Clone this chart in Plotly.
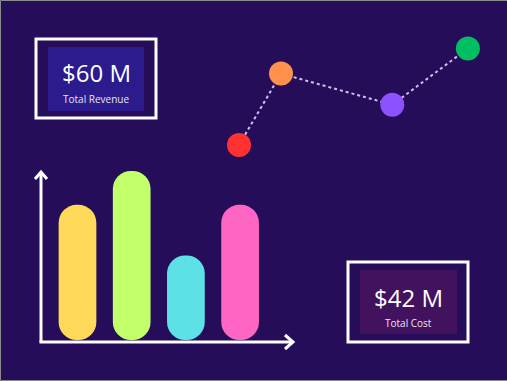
import plotly.graph_objects as go

W, H = 507, 381
BG = "#260d5a"

# ---- data ----
bar_categories = ["A", "B", "C", "D"]
bar_values = [80, 100, 50, 80]
bar_colors = ["#FFD95A", "#C1FF6B", "#5CE1E6", "#FF66C4"]

line_x = [0, 1, 3.65, 5.45]
line_y = [12.5, 72, 46, 93]
point_colors = ["#FF3131", "#FF914D", "#8C52FF", "#00BF63"]

kpi_values = ["$60 M", "$42 M"]
kpi_labels = ["Total Revenue", "Total Cost"]


def px(x):
    return x / W


def py(y):
    return 1 - y / H


fig = go.Figure()

idx = list(range(len(bar_categories)))
BAR_W = 0.696
fig.add_trace(go.Bar(
    x=idx, y=bar_values, base=[0] * len(idx),
    width=BAR_W, marker=dict(color=bar_colors, line=dict(width=0), cornerradius="50%"),
    hoverinfo="skip", xaxis="x", yaxis="y"))

# dotted line with coloured points
fig.add_trace(go.Scatter(
    x=line_x, y=line_y, mode="lines+markers",
    line=dict(color="rgba(225,215,255,0.9)", width=2, dash="dot"),
    marker=dict(size=24, color=point_colors, line=dict(width=0)),
    hoverinfo="skip", cliponaxis=False, xaxis="x2", yaxis="y2"))

shapes = []
annotations = []

# thin frame on left, top and bottom edges
FR = dict(color="#8a8a8a", width=1)
shapes.append(dict(type="path", xref="paper", yref="paper", layer="above",
                   path=f"M {px(W)},{py(0.5)} L {px(0.5)},{py(0.5)} L {px(0.5)},{py(H - 0.5)} L {px(W)},{py(H - 0.5)}",
                   line=FR))

AX = dict(color="white", width=3)
shapes.append(dict(type="line", xref="paper", yref="paper",
                   x0=px(41), y0=py(342), x1=px(41), y1=py(172), line=AX))
shapes.append(dict(type="line", xref="paper", yref="paper",
                   x0=px(39.5), y0=py(342), x1=px(292), y1=py(342), line=AX))
shapes.append(dict(type="path", xref="paper", yref="paper",
                   path=f"M {px(35)},{py(179)} L {px(41)},{py(172)} L {px(47)},{py(179)}",
                   line=AX))
shapes.append(dict(type="path", xref="paper", yref="paper",
                   path=f"M {px(285)},{py(335)} L {px(293)},{py(342)} L {px(285)},{py(349)}",
                   line=AX))

boxes = [
    dict(outer=(36, 39, 156, 118), inner=(48, 47, 144, 111), fill="#2b1b8c",
         cx=96, vy=73, ly=99),
    dict(outer=(348, 262, 468, 342), inner=(360, 270, 457, 334), fill="#43125f",
         cx=408, vy=297, ly=323),
]
for b, val, lab in zip(boxes, kpi_values, kpi_labels):
    x0, y0, x1, y1 = b["inner"]
    shapes.append(dict(type="rect", xref="paper", yref="paper",
                       x0=px(x0), y0=py(y1), x1=px(x1), y1=py(y0),
                       fillcolor=b["fill"], line=dict(width=0), layer="below"))
    x0, y0, x1, y1 = b["outer"]
    shapes.append(dict(type="rect", xref="paper", yref="paper",
                       x0=px(x0), y0=py(y1), x1=px(x1), y1=py(y0),
                       line=dict(color="white", width=3), layer="below"))
    annotations.append(dict(text=val, x=px(b["cx"]), y=py(b["vy"]), xref="paper", yref="paper",
                            showarrow=False, xanchor="center", yanchor="middle",
                            font=dict(family="Open Sans", size=24, color="white")))
    annotations.append(dict(text=lab, x=px(b["cx"]), y=py(b["ly"]), xref="paper", yref="paper",
                            showarrow=False, xanchor="center", yanchor="middle",
                            font=dict(family="Open Sans", size=10, color="#e8e4f4")))

hidden = dict(visible=False, showgrid=False, zeroline=False, fixedrange=True)

fig.update_layout(
    width=W, height=H,
    margin=dict(l=0, r=0, t=0, b=0),
    paper_bgcolor=BG, plot_bgcolor="rgba(0,0,0,0)",
    showlegend=False, barmode="overlay",
    xaxis=dict(domain=[px(40), px(293)], range=[(40 - 77.5) / 54.2, (293 - 77.5) / 54.2], **hidden),
    yaxis=dict(domain=[py(342), py(171)], range=[-1.18, 100], **hidden),
    xaxis2=dict(domain=[px(220), px(490)], range=[(220 - 239) / 42, (490 - 239) / 42],
                anchor="y2", **hidden),
    yaxis2=dict(domain=[py(160), py(40)], range=[0, 100], anchor="x2", **hidden),
    shapes=shapes, annotations=annotations,
    hovermode=False,
)

fig.write_html("out.html", config=dict(displayModeBar=False))
